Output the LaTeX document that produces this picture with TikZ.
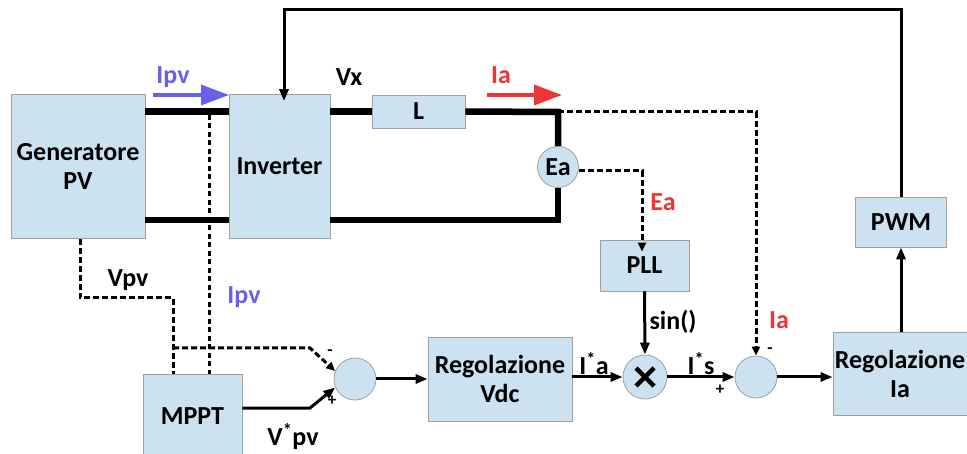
\documentclass[tikz,border=0pt]{standalone}
\usepackage{fontspec}
\setmainfont{Carlito}
\usetikzlibrary{arrows.meta,calc}
\definecolor{boxfill}{HTML}{CCE2F0}
\definecolor{boxline}{HTML}{A0A0A0}
\definecolor{ipvblue}{HTML}{6A60E8}
\definecolor{iared}{HTML}{EE3535}
\begin{document}
\begin{tikzpicture}[x=1pt,y=-1pt,
  txt/.style={font=\bfseries\fontsize{26}{29}\selectfont},
  blk/.style={draw=boxline, fill=boxfill, line width=0.8pt, inner sep=0pt, align=center, txt},
  circ/.style={circle, draw=boxline, fill=boxfill, line width=0.8pt, inner sep=0pt, minimum size=#1},
  power/.style={line width=6.5pt},
  sig/.style={line width=3pt, -{Triangle[length=12pt,width=9pt]}},
  dsh/.style={line width=3pt, dash pattern=on 6pt off 3pt},
  dtip/.style={-{Triangle[length=9pt,width=8pt]}},
  cur/.style={line width=3.5pt, -{Triangle[length=28pt,width=20pt]}},
  sgn/.style={font=\bfseries\fontsize{17}{19}\selectfont}]
\clip (0,0) rectangle (967,454);
\fill[white] (0,0) rectangle (967,454);
% blocks
\node[blk, minimum width=134pt, minimum height=144pt] (gen) at (78,166.5) {Generatore\\PV};
\node[blk, minimum width=101pt, minimum height=144pt] (inv) at (279.5,166.5) {Inverter};
\node[blk, minimum width=93pt, minimum height=33pt] (L) at (418.5,111.5) {L};
\node[circ=41pt, txt] (ea) at (558,167) {Ea};
\node[blk, minimum width=89pt, minimum height=51pt] (pll) at (644.5,265.5) {PLL};
\node[blk, minimum width=91pt, minimum height=50pt] (pwm) at (901,222) {PWM};
\node[blk, minimum width=144pt, minimum height=84pt] (regvdc) at (500,379) {Regolazione\\Vdc};
\node[blk, minimum width=134pt, minimum height=83pt] (regia) at (900,373.5) {Regolazione\\Ia};
\node[blk, minimum width=99pt, minimum height=84pt] (mppt) at (192.5,416) {MPPT};
\node[circ=42pt] (sum1) at (355,379) {};
\node[circ=44pt] (mult) at (645,377) {};
\node[circ=42pt] (sum2) at (756,377) {};
\draw[line width=4.5pt] ($(mult)+(-9,-9)$) -- ($(mult)+(9,9)$) ($(mult)+(-9,9)$) -- ($(mult)+(9,-9)$);
% power lines
\coordinate (tr) at (558,112);
\coordinate (br) at (558,220);
\draw[power] (gen.east |- L.west) -- (inv.west |- L.west);
\draw[power] (gen.east |- br) -- (inv.west |- br);
\draw[power] (inv.east |- L.west) -- (L.west);
\draw[power] (L.east) -- (tr) -- (ea.north);
\draw[power] (ea.south) -- (br) -- (inv.east |- br);
% current arrows
\coordinate (ipva) at (153,95); \coordinate (ipvb) at (229,95);
\coordinate (iaa) at (487,95); \coordinate (iab) at (562,95);
\draw[cur, draw=ipvblue, fill=ipvblue] (ipva) -- (ipvb);
\draw[cur, draw=iared, fill=iared] (iaa) -- (iab);
\node[txt, text=ipvblue] (lipv) at (173,77) {Ipv};
\node[txt] (lvx) at (349,77) {Vx};
\node[txt, text=iared] (lia) at (501,75) {Ia};
% feedback PWM -> inverter
\coordinate (fbl) at (284,10);
\draw[sig] (pwm.north) -- (pwm.north |- fbl) -- (fbl) -- ([yshift=-7pt]fbl |- inv.north);
\draw[sig] (regia.north -| pwm.south) -- (pwm.south);
% Ea measurement
\coordinate (eac) at (642,171);
\draw[dsh, dtip] (ea.east |- eac) -- (eac) -- ([yshift=-12pt]eac |- pll.north);
\node[txt, text=iared] (lea) at (663,202) {Ea};
% Ia measurement
\coordinate (iac) at (756,112);
\draw[dsh, dtip] (tr) -- (iac) -- (sum2.north);
\node[txt, text=iared] (lia2) at (779,320) {Ia};
\node[sgn] at (770,351) {-};
\node[sgn] at (720,390) {+};
% control chain
\draw[sig] (pll.south) -- (mult.north);
\node[txt] (lsin) at (673,322) {sin()};
\draw[sig] (regvdc.east |- mult) -- (mult.west);
\node[txt] (lia3) at (594,364) {I\textsuperscript{*}a};
\draw[sig] (mult.east) -- (sum2.west);
\node[txt] (lis) at (701,364) {I\textsuperscript{*}s};
\draw[sig] (sum2.east) -- (sum2.east -| regia.west);
\draw[sig] (sum1.east) -- (sum1.east -| regvdc.west);
% PV measurements
\coordinate (v1) at (80,298);
\coordinate (v2) at (173,298);
\coordinate (h1) at (173,348);
\coordinate (h2) at (310,348);
\draw[dsh] (gen.south -| v1) -- (v1) -- (v2) -- (v2 |- mppt.north);
\draw[dsh, dtip] (h1) -- (h2) -- (sum1.158);
\coordinate (ip1) at (209,115);
\draw[dsh, dash pattern=on 5pt off 3.5pt] (ip1) -- (ip1 |- mppt.north);
\node[txt] (lvpv) at (128,280) {Vpv};
\node[txt, text=ipvblue] (lipv2) at (244,297) {Ipv};
\coordinate (m1) at (310,408);
\draw[sig] (mppt.east |- m1) -- (m1) -- (sum1.203);
\node[txt] (lvpvs) at (293,437) {V\textsuperscript{*}pv};
\node[sgn] at (330,353) {-};
\node[sgn] at (332,401) {+};
\end{tikzpicture}
\end{document}
